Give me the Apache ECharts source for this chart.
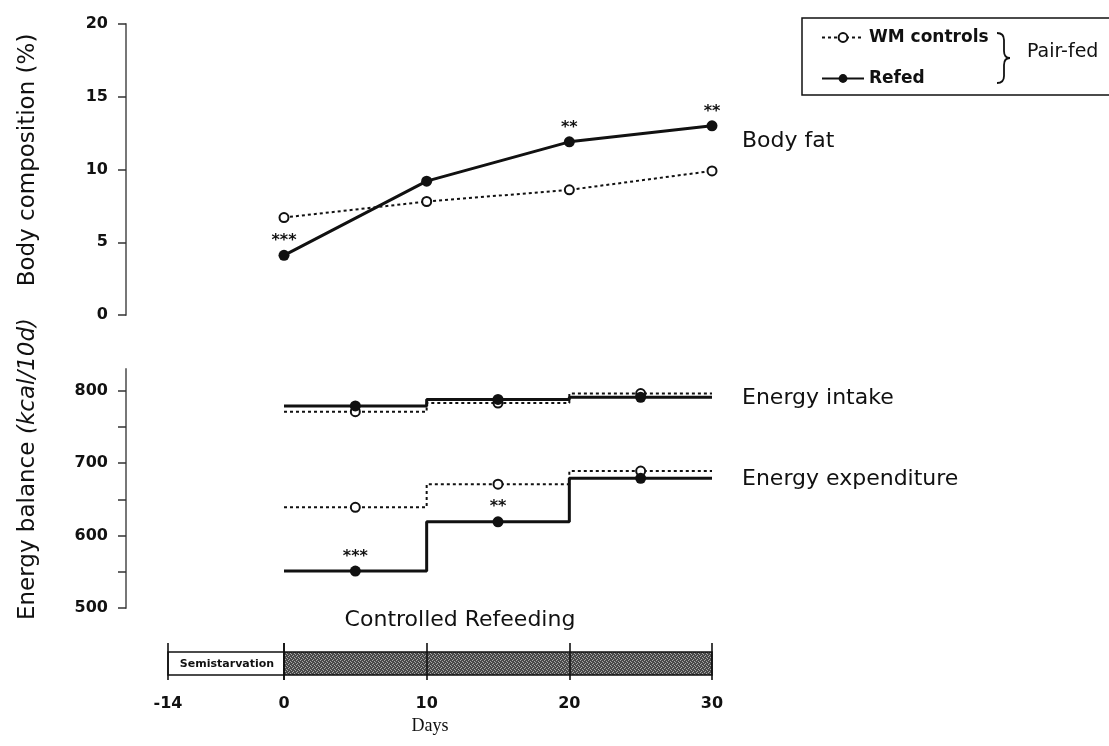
<!DOCTYPE html>
<html>
<head>
<meta charset="utf-8">
<script src="https://cdn.jsdelivr.net/npm/echarts@6/dist/echarts.min.js"></script>
<style>
  html, body { margin: 0; padding: 0; background: #fff; }
  #chart { width: 1109px; height: 746px; }
</style>
</head>
<body>
<div id="chart"></div>
<script>
// Body composition (% fat) at each measurement day
const fatDays = [0, 10, 20, 30];
const fatWM = [6.7, 7.8, 8.6, 9.9];
const fatRefed = [4.1, 9.2, 11.9, 13.0];
const fatStars = ['***', '', '**', '**'];

// Energy balance per 10-day period (kcal/10d)
const periodEdges = [0, 10, 20, 30];
const periodMid = [5, 15, 25];
const intakeWM = [771, 783, 796];
const intakeRefed = [779, 788, 791];
const expendWM = [639, 671, 689];
const expendRefed = [551, 619, 679];
const expendStars = ['***', '**', ''];
const energyLabels = [500, 600, 700, 800];
const energyTicks = [500, 550, 600, 650, 700, 750, 800];

// Study timeline (days)
const semistarvation = [-14, 0];
const refeeding = [0, 30];

const INK = '#111';
const FONT = 'DejaVu Sans';

// step line: level of each period held from its start to the next edge
function stepData(levels) {
  return periodEdges.map((d, i) => [d, levels[Math.min(i, levels.length - 1)]]);
}
function midData(levels) {
  return periodMid.map((d, i) => [d, levels[i]]);
}

// stippled fill for the refeeding bar
const pat = document.createElement('canvas');
pat.width = 4; pat.height = 4;
const pctx = pat.getContext('2d');
pctx.fillStyle = '#4a4a4a';
pctx.fillRect(0, 0, 4, 4);
pctx.fillStyle = '#a8a8a8';
pctx.fillRect(0, 0, 1, 1);
pctx.fillRect(2, 1, 1, 1);
pctx.fillRect(1, 3, 1, 1);
pctx.fillRect(3, 2, 1, 1);

const chart = echarts.init(document.getElementById('chart'), null, { renderer: 'canvas' });

const tickLabel = { color: INK, fontFamily: FONT, fontWeight: 'bold', fontSize: 16, margin: 18 };

const yAxisCommon = {
  type: 'value',
  axisLine: { show: true, onZero: false, lineStyle: { color: '#777', width: 2 } },
  axisTick: { show: true, length: 8, lineStyle: { color: '#333', width: 1.5 } },
  axisLabel: tickLabel,
  splitLine: { show: false },
  offset: 158,
  nameLocation: 'middle',
  nameRotate: 90
};

const lineWM = { color: INK, width: 2, type: [3, 3] };
const lineRefed = { color: INK, width: 3 };
const starLabel = (arr) => ({
  show: true, position: 'top', distance: 1,
  formatter: (p) => arr[p.dataIndex], color: INK, fontFamily: FONT, fontSize: 16, fontWeight: 'bold'
});

// brace joining the two legend entries
const braceStyle = { fill: 'none', stroke: INK, lineWidth: 1.8 };
const brace = {
  type: 'group',
  children: [
    { type: 'bezierCurve', shape: { x1: 997, y1: 33, cpx1: 1004, cpy1: 33, x2: 1004, y2: 40 }, style: braceStyle },
    { type: 'line', shape: { x1: 1004, y1: 40, x2: 1004, y2: 51 }, style: braceStyle },
    { type: 'bezierCurve', shape: { x1: 1004, y1: 51, cpx1: 1004, cpy1: 58, x2: 1010, y2: 58 }, style: braceStyle },
    { type: 'bezierCurve', shape: { x1: 1010, y1: 58, cpx1: 1004, cpy1: 58, x2: 1004, y2: 65 }, style: braceStyle },
    { type: 'line', shape: { x1: 1004, y1: 65, x2: 1004, y2: 76 }, style: braceStyle },
    { type: 'bezierCurve', shape: { x1: 1004, y1: 76, cpx1: 1004, cpy1: 83, x2: 997, y2: 83 }, style: braceStyle }
  ]
};

const option = {
  backgroundColor: '#fff',
  animation: false,
  textStyle: { fontFamily: FONT, color: INK },
  legend: {
    data: ['WM controls', 'Refed'],
    orient: 'vertical',
    left: 816, top: 24,
    itemWidth: 42, itemHeight: 11, itemGap: 24,
    textStyle: { fontFamily: FONT, fontSize: 17, fontWeight: 'bold', color: INK }
  },
  grid: [
    { left: 284, top: 24, width: 428, height: 291 },
    { left: 284, top: 369, width: 428, height: 239 },
    { left: 284, top: 643, width: 428, height: 37 },
    { left: 168, top: 643, width: 116, height: 37 }
  ],
  xAxis: [
    { gridIndex: 0, type: 'value', min: 0, max: 30, show: false },
    { gridIndex: 1, type: 'value', min: 0, max: 30, show: false },
    {
      gridIndex: 2, type: 'value', min: refeeding[0], max: refeeding[1], interval: 10, z: 10,
      axisLine: { show: false }, axisTick: { show: false },
      axisLabel: Object.assign({}, tickLabel, { margin: 16 }),
      splitLine: { show: true, lineStyle: { color: INK, width: 1.6 } }
    },
    {
      gridIndex: 3, type: 'value', min: semistarvation[0], max: semistarvation[1], interval: 14, z: 10,
      axisLine: { show: false }, axisTick: { show: false },
      axisLabel: Object.assign({}, tickLabel, { margin: 16, showMaxLabel: false }),
      splitLine: { show: true, lineStyle: { color: INK, width: 1.6 } }
    }
  ],
  yAxis: [
    Object.assign({}, yAxisCommon, {
      gridIndex: 0, min: 0, max: 20, interval: 5,
      name: 'Body composition (%)', nameGap: 86,
      nameTextStyle: { fontFamily: FONT, fontSize: 23, color: INK, padding: [0, 0, 0, 19] }
    }),
    Object.assign({}, yAxisCommon, {
      gridIndex: 1, min: 500, max: 830, interval: 50,
      axisTick: { show: true, length: 8, customValues: energyTicks, lineStyle: { color: '#333', width: 1.5 } },
      axisLabel: Object.assign({}, tickLabel, { customValues: energyLabels }),
      name: '{a|Energy balance}  {b|(kcal/10d)}', nameGap: 86,
      nameTextStyle: {
        padding: [0, 0, 0, 39],
        rich: {
          a: { fontFamily: FONT, fontSize: 23, color: INK },
          b: { fontFamily: FONT, fontSize: 23, color: INK, fontStyle: 'italic' }
        }
      }
    }),
    { gridIndex: 2, type: 'value', min: 0, max: 1, show: false },
    { gridIndex: 3, type: 'value', min: 0, max: 1, show: false }
  ],
  series: [
    // body fat
    {
      name: 'WM controls', type: 'line', xAxisIndex: 0, yAxisIndex: 0,
      data: fatDays.map((d, i) => [d, fatWM[i]]),
      symbol: 'emptyCircle', symbolSize: 9,
      lineStyle: lineWM, itemStyle: { color: INK, borderWidth: 2 }, z: 3
    },
    {
      name: 'Refed', type: 'line', xAxisIndex: 0, yAxisIndex: 0,
      data: fatDays.map((d, i) => [d, fatRefed[i]]),
      symbol: 'circle', symbolSize: 11,
      lineStyle: lineRefed, itemStyle: { color: INK },
      label: starLabel(fatStars), z: 4
    },
    // energy intake
    {
      name: 'WM controls', type: 'line', step: 'end', xAxisIndex: 1, yAxisIndex: 1,
      data: stepData(intakeWM), showSymbol: false, symbol: 'none', lineStyle: lineWM, z: 3
    },
    {
      name: 'Refed', type: 'line', step: 'end', xAxisIndex: 1, yAxisIndex: 1,
      data: stepData(intakeRefed), showSymbol: false, symbol: 'none', lineStyle: lineRefed, z: 3
    },
    // energy expenditure
    {
      name: 'WM controls', type: 'line', step: 'end', xAxisIndex: 1, yAxisIndex: 1,
      data: stepData(expendWM), showSymbol: false, symbol: 'none', lineStyle: lineWM, z: 3
    },
    {
      name: 'Refed', type: 'line', step: 'end', xAxisIndex: 1, yAxisIndex: 1,
      data: stepData(expendRefed), showSymbol: false, symbol: 'none', lineStyle: lineRefed, z: 3
    },
    // period means
    {
      name: 'WM controls', type: 'scatter', xAxisIndex: 1, yAxisIndex: 1,
      data: midData(intakeWM).concat(midData(expendWM)),
      symbol: 'emptyCircle', symbolSize: 9, itemStyle: { color: INK, borderWidth: 2, opacity: 1 }, z: 4
    },
    {
      name: 'Refed', type: 'scatter', xAxisIndex: 1, yAxisIndex: 1,
      data: midData(intakeRefed),
      symbol: 'circle', symbolSize: 11, itemStyle: { color: INK, opacity: 1 }, z: 5
    },
    {
      name: 'Refed', type: 'scatter', xAxisIndex: 1, yAxisIndex: 1,
      data: midData(expendRefed),
      symbol: 'circle', symbolSize: 11, itemStyle: { color: INK, opacity: 1 },
      label: starLabel(expendStars), z: 5
    },
    // timeline bar
    {
      type: 'custom', xAxisIndex: 2, yAxisIndex: 2, silent: true,
      data: [refeeding],
      renderItem: (params, api) => {
        const x0 = api.coord([api.value(0), 0])[0];
        const x1 = api.coord([api.value(1), 0])[0];
        const cs = params.coordSys;
        return {
          type: 'rect',
          shape: { x: x0, y: cs.y + 9, width: x1 - x0, height: 23 },
          style: { fill: { image: pat, repeat: 'repeat' }, stroke: INK, lineWidth: 1.5 }
        };
      }
    },
    {
      type: 'custom', xAxisIndex: 3, yAxisIndex: 3, silent: true,
      data: [semistarvation],
      renderItem: (params, api) => {
        const x0 = api.coord([api.value(0), 0])[0];
        const x1 = api.coord([api.value(1), 0])[0];
        const cs = params.coordSys;
        return {
          type: 'group',
          children: [
            {
              type: 'rect',
              shape: { x: x0, y: cs.y + 9, width: x1 - x0, height: 23 },
              style: { fill: '#fff', stroke: INK, lineWidth: 1.5 }
            },
            {
              type: 'text',
              style: {
                x: (x0 + x1) / 2 + 1, y: cs.y + 21, text: 'Semistarvation',
                align: 'center', verticalAlign: 'middle',
                font: 'bold 11px "DejaVu Sans"', fill: INK
              }
            }
          ]
        };
      }
    }
  ],
  graphic: [
    { type: 'rect', shape: { x: 802, y: 18, width: 320, height: 77 },
      style: { fill: 'none', stroke: INK, lineWidth: 1.5 } },
    brace,
    { type: 'text', x: 1027, y: 52, style: { text: 'Pair-fed', font: '19px "DejaVu Sans"', fill: INK, verticalAlign: 'middle' } },
    { type: 'text', x: 742, y: 141, style: { text: 'Body fat', font: '22px "DejaVu Sans"', fill: INK, verticalAlign: 'middle' } },
    { type: 'text', x: 742, y: 398, style: { text: 'Energy intake', font: '22px "DejaVu Sans"', fill: INK, verticalAlign: 'middle' } },
    { type: 'text', x: 742, y: 479, style: { text: 'Energy expenditure', font: '22px "DejaVu Sans"', fill: INK, verticalAlign: 'middle' } },
    { type: 'text', x: 460, y: 620, style: { text: 'Controlled Refeeding', font: '22px "DejaVu Sans"', fill: INK, align: 'center', verticalAlign: 'middle' } },
    { type: 'text', x: 430, y: 726, style: { text: 'Days', font: '18px "Liberation Serif"', fill: INK, align: 'center', verticalAlign: 'middle' } }
  ]
};

chart.setOption(option);
</script>
</body>
</html>
